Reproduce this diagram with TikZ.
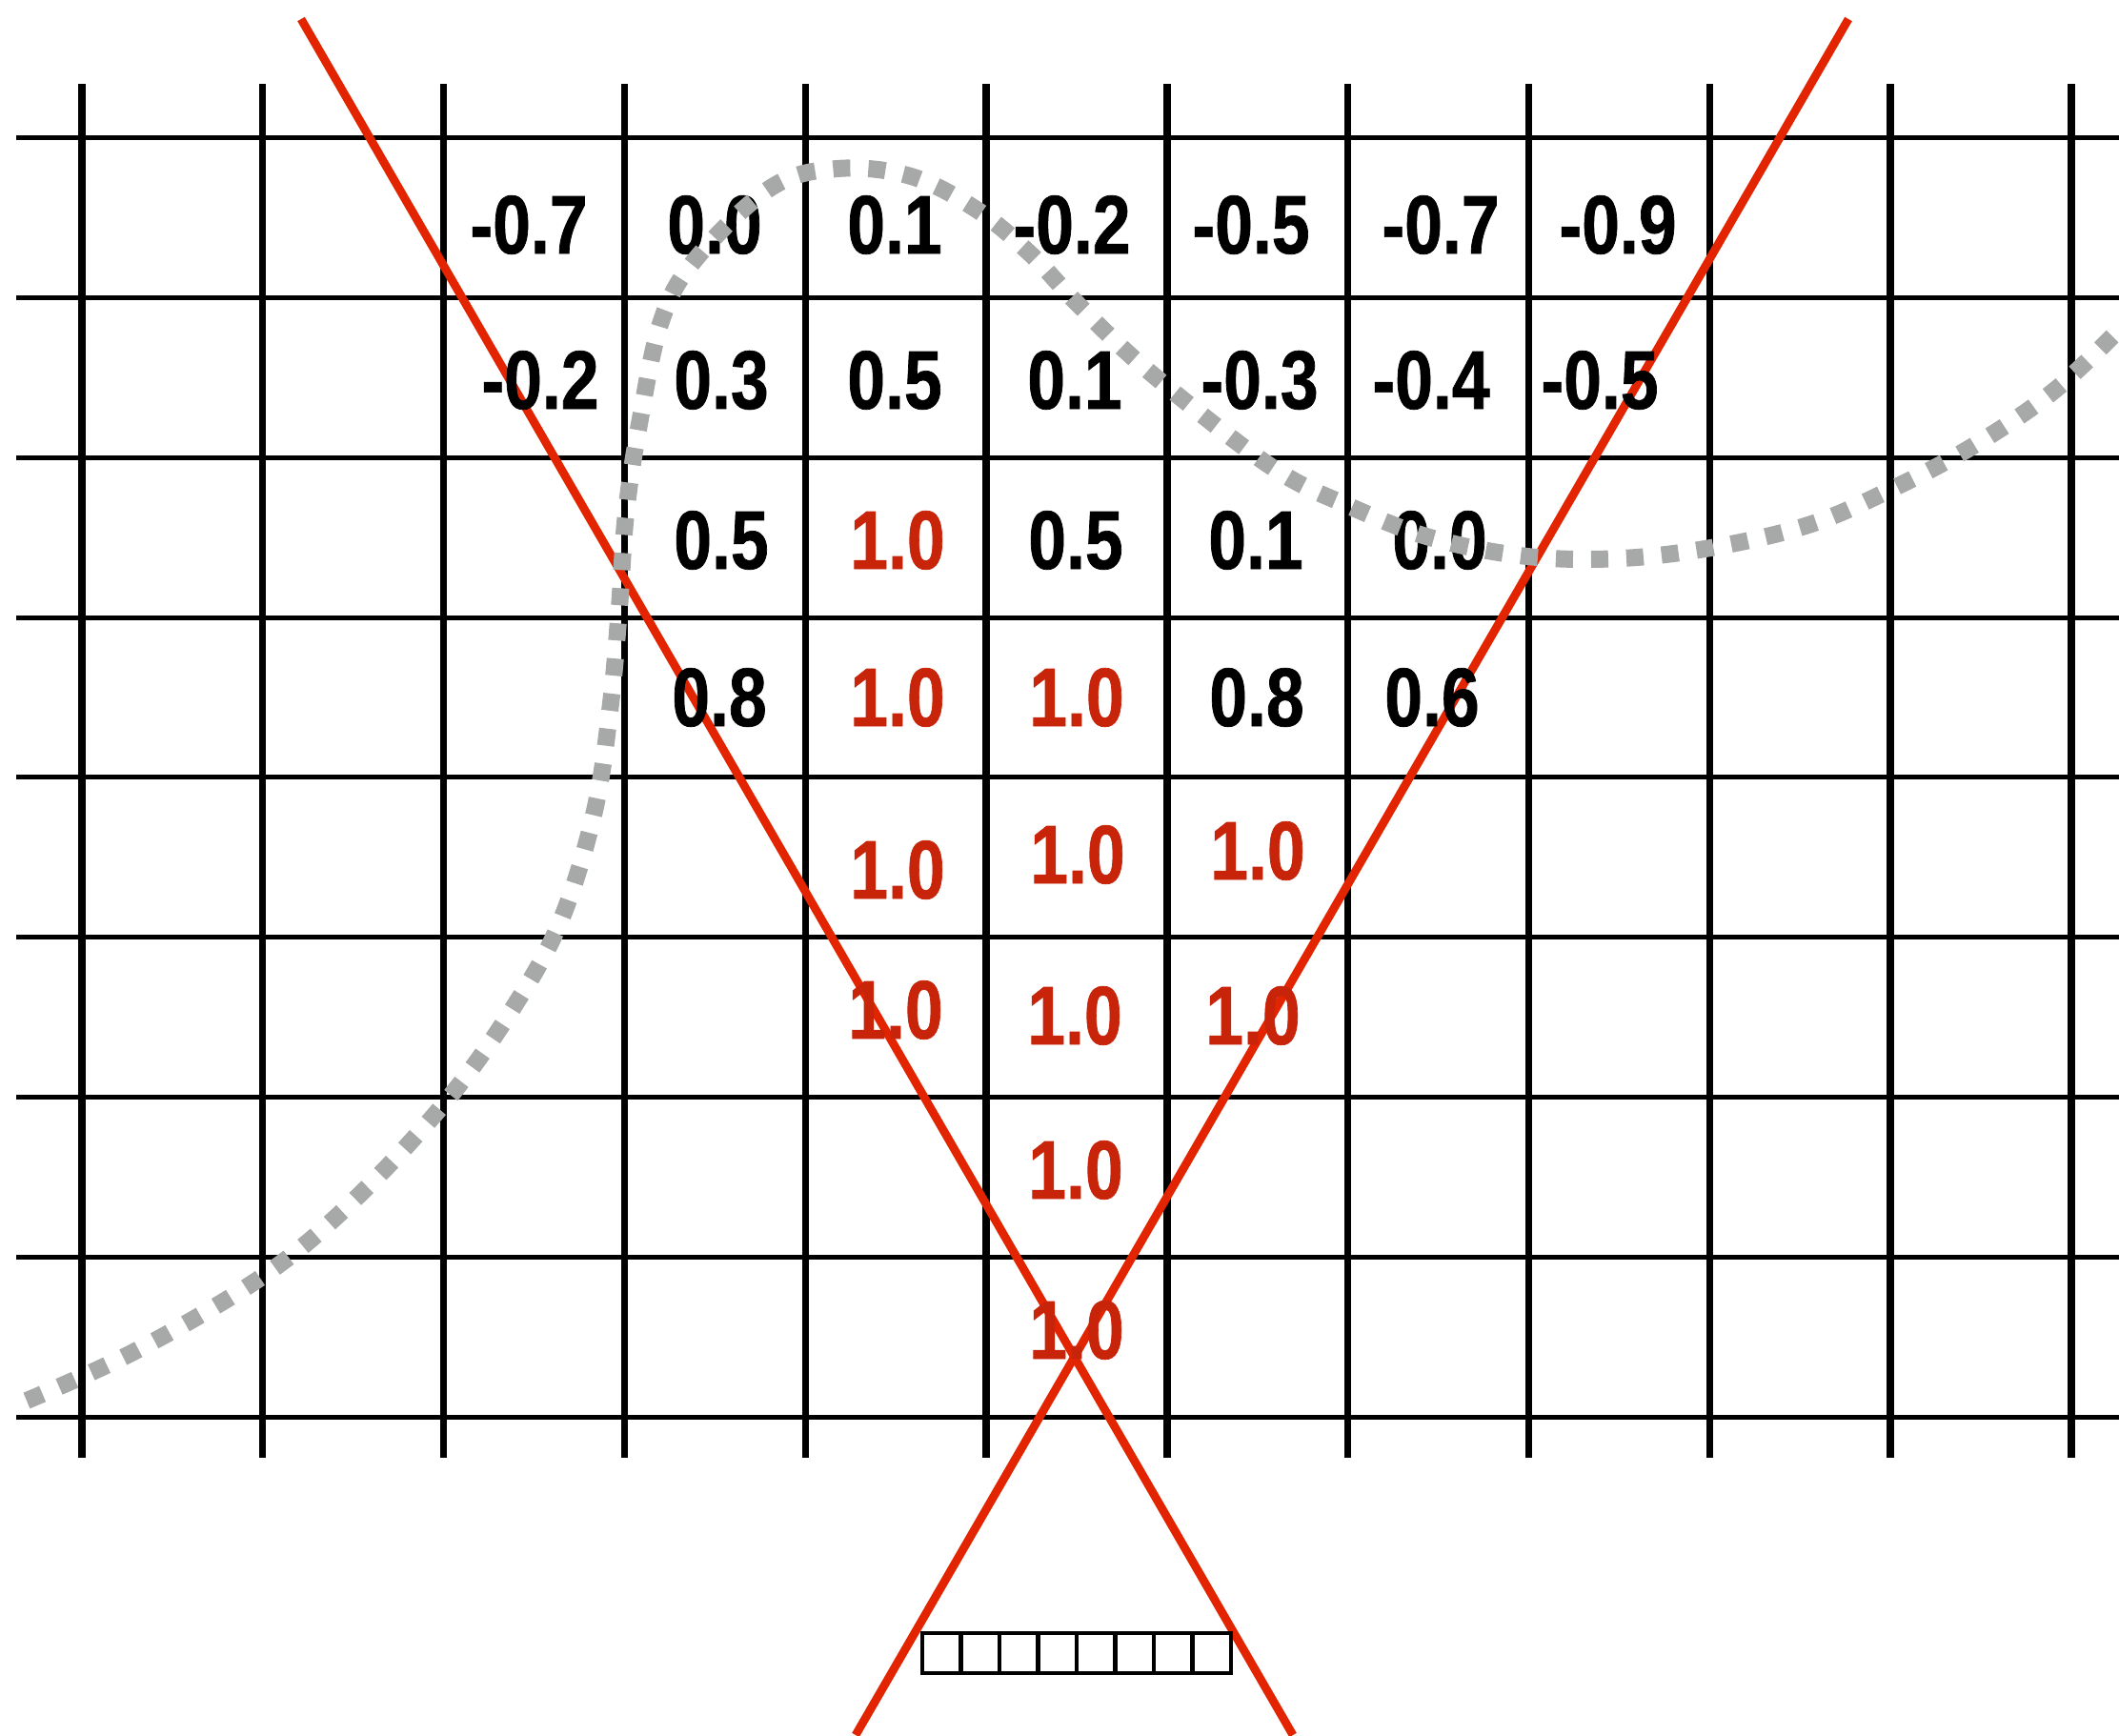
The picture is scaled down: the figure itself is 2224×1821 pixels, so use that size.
\documentclass[tikz,border=0pt]{standalone}
\usepackage{fontspec}
\newfontfamily\numfont{Liberation Sans}[FakeStretch=0.82,FakeBold=0.8]
\definecolor{rayred}{HTML}{E22400}
\definecolor{hotred}{HTML}{C8240A}
\definecolor{dotgray}{HTML}{A6A9A7}

\begin{document}
\begin{tikzpicture}[x=0.01cm,y=-0.01cm,
 hline/.style={line width=1.4pt},
 vline/.style={line width=2.1pt},
 ray/.style={line width=2.5pt,rayred},
 val/.style={font=\numfont\bfseries\fontsize{24.8}{30}\selectfont,inner sep=0pt},
 hot/.style={val,text=hotred},
 dots/.style={line width=0.18cm,dotgray,dash pattern=on 0.18cm off 0.19cm},
 pixel/.style={line width=1.2pt}]
\useasboundingbox (0,0) rectangle (2224,1821);
% grid
\foreach \j in {0,...,8} \draw[hline] (17,{144.7+167.8*\j}) -- (2224,{144.7+167.8*\j});
\foreach \i in {0,...,11} \draw[vline] ({86+189.8*\i},88) -- ({86+189.8*\i},1530);
% field of view
\coordinate (la) at (316,20);
\coordinate (lb) at (1357,1821);
\coordinate (ra) at (1940,20);
\coordinate (rb) at (898,1821);
\draw[ray] (la) -- (lb);
\draw[ray] (ra) -- (rb);
% values
\foreach \n/\x/\v in {a1/555/-0.7,a2/750/0.0,a3/939/0.1,a4/1125/-0.2,a5/1313/-0.5,a6/1512/-0.7,a7/1698/-0.9}
 \node[val] (\n) at (\x,236) {\v};
\foreach \n/\x/\v in {b1/567/-0.2,b2/757/0.3,b3/939/0.5,b4/1128/0.1,b5/1322/-0.3,b6/1502/-0.4,b7/1679/-0.5}
 \node[val] (\n) at (\x,399) {\v};
\foreach \n/\x/\v in {c1/757/0.5,c3/1129/0.5,c4/1318/0.1,c5/1511/0.0}
 \node[val] (\n) at (\x,567) {\v};
\node[hot] (c2) at (942,567) {1.0};
\foreach \n/\x/\v in {d1/755/0.8,d4/1319/0.8,d5/1503/0.6}
 \node[val] (\n) at (\x,732) {\v};
\foreach \n/\x/\y in {d2/942/732,d3/1130/732,e1/942/913,e2/1131/897,e3/1320/893,
 f1/940/1060,f2/1128/1066,f3/1315/1066,g1/1129/1228,h1/1130/1396}
 \node[hot] (\n) at (\x,\y) {1.0};
% boundary
\draw[dots] plot[smooth,tension=0.6] coordinates {(28,1470) (142,1418) (275,1340) (369,1262)
 (468,1156) (539,1057) (589,965) (624,851) (641,738) (650,638) (657,539) (671,445)
 (694,337) (730,272) (809,197) (879,177) (956,185) (1025,220) (1082,267) (1132,320)
 (1206,390) (1333,489) (1418,532) (1504,565) (1603,584) (1702,586) (1801,574)
 (1901,550) (1986,513) (2071,468) (2156,410) (2230,340)};
% sensor
\foreach \k in {0,...,7} \draw[pixel] ({968+40.5*\k},1714) rectangle ++(40.5,42);
\end{tikzpicture}
\end{document}
